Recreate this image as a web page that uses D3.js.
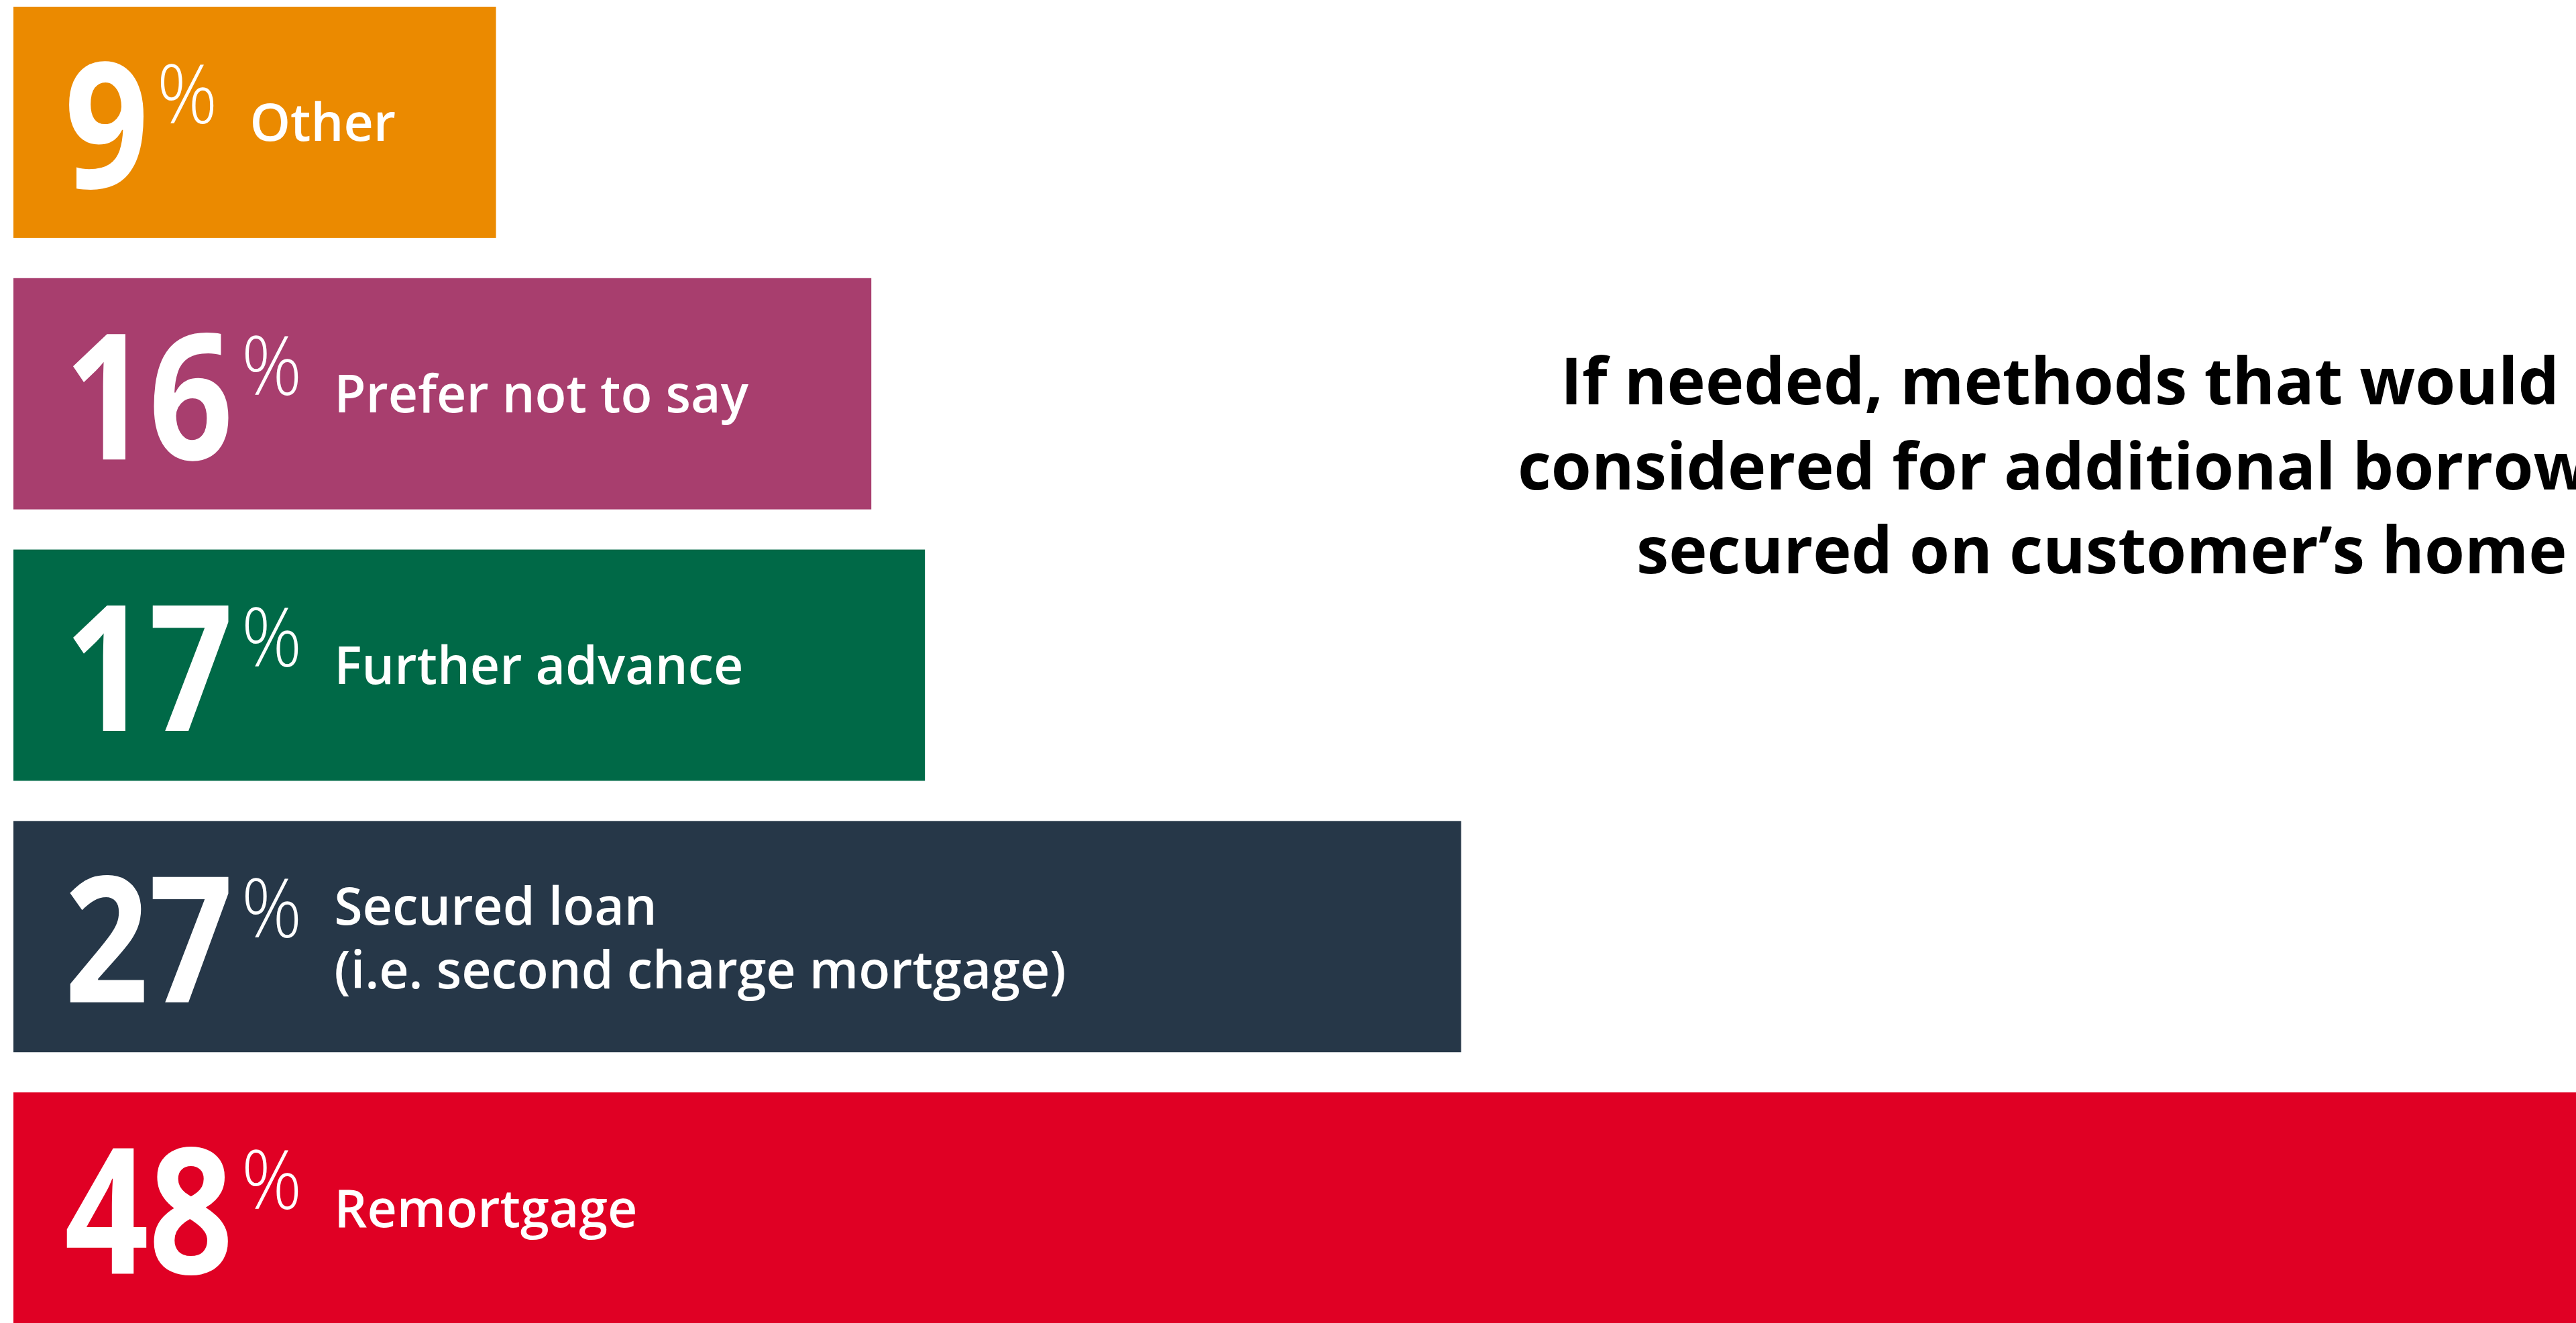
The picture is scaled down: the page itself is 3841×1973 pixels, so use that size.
<!DOCTYPE html>
<html><head><meta charset="utf-8">
<script src="https://cdn.jsdelivr.net/npm/d3@7"></script>
<style>html,body{margin:0;padding:0;background:#fff;overflow:hidden}</style>
</head><body>
<script>
const categories = ["Other", "Prefer not to say", "Further advance", "Secured loan", "Remortgage"];
const labelLines = [["Other"], ["Prefer not to say"], ["Further advance"], ["Secured loan", "(i.e. second charge mortgage)"], ["Remortgage"]];
const values = [9, 16, 17, 27, 48];
const colors = ["#EB8A00", "#A83E6E", "#006947", "#263748", "#E00024"];
const titleLines = ["If needed, methods that would be", "considered for additional borrowing", "secured on customer\u2019s home"];

const W = 3841, H = 1973;
const svg = d3.select("body").append("svg").attr("width", W).attr("height", H);
const font = "'Open Sans', sans-serif";

const x = d3.scaleLinear().domain([0, 48]).range([20, 20 + 48 * 79.95]);
const y = d3.scaleBand().domain(categories).range([10, 1974]).paddingInner(0.148).paddingOuter(0);

const data = categories.map((c, i) => ({c, v: values[i], color: colors[i], lines: labelLines[i]}));

const g = svg.selectAll("g.bar").data(data).join("g").attr("class", "bar");
g.append("rect")
  .attr("x", x(0)).attr("y", d => y(d.c))
  .attr("width", d => x(d.v) - x(0)).attr("height", y.bandwidth())
  .attr("fill", d => d.color);

g.each(function(d) {
  const sel = d3.select(this);
  const top = y(d.c), mid = top + y.bandwidth() / 2;
  const num = sel.append("text").attr("x", 96).attr("y", mid + 98)
    .attr("font-family", font).attr("font-weight", 700).attr("font-size", 262)
    .attr("fill", "#fff").text(d.v);
  const len = num.node().getComputedTextLength();
  num.attr("textLength", len * 0.84).attr("lengthAdjust", "spacingAndGlyphs");
  const nb = num.node().getBBox();
  const pct = sel.append("text").attr("x", nb.x + nb.width + 12).attr("y", top + 85 + 89)
    .attr("font-family", font).attr("font-weight", 300).attr("font-size", 122)
    .attr("fill", "#fff").text("%");
  const pct_len = pct.node().getComputedTextLength();
  pct.attr("textLength", pct_len * 0.92).attr("lengthAdjust", "spacingAndGlyphs");
  const pb = pct.node().getBBox();
  const lx = pb.x + pb.width + 48;
  const n = d.lines.length;
  const offs = n === 1 ? [28] : [-18, 77];
  d.lines.forEach((t, j) => {
    sel.append("text").attr("x", lx).attr("y", mid + offs[j])
      .attr("font-family", font).attr("font-weight", 600).attr("font-size", 77)
      .attr("fill", "#fff").text(t);
  });
});

const titleX = [2327, 2263, 2440];
const titleY = [603, 730, 855];
svg.selectAll("text.title").data(titleLines).join("text").attr("class", "title")
  .attr("x", (d, i) => titleX[i]).attr("y", (d, i) => titleY[i])
  .attr("font-family", font).attr("font-weight", 700).attr("font-size", 97)
  .attr("fill", "#000").text(d => d);
</script>
</body></html>
